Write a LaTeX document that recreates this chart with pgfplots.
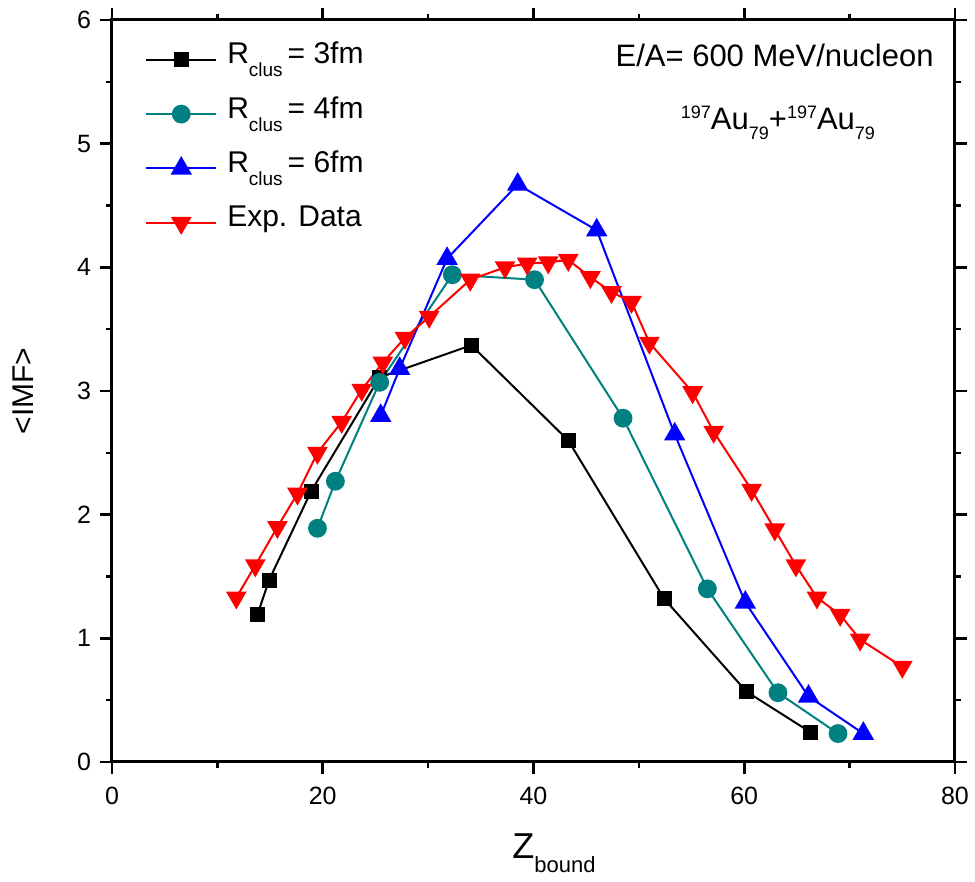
\documentclass[border=0pt]{standalone}
\usepackage{pgfplots}
\pgfplotsset{compat=1.18}
\usepackage{fontspec}
\setmainfont{Liberation Sans}
\definecolor{tealc}{RGB}{0,128,128}
\newcommand{\lsub}[1]{\raisebox{-6.5pt}{\fontsize{9.5}{10}\selectfont #1}}
\newcommand{\nsub}[1]{\raisebox{-5pt}{\fontsize{9}{10}\selectfont #1}}
\newcommand{\nsup}[1]{\raisebox{5.5pt}{\fontsize{9}{10}\selectfont #1}}
\begin{document}
\begin{tikzpicture}
\begin{axis}[
  scale only axis,
  width=421.5pt, height=371pt,
  xmin=0, xmax=80, ymin=0, ymax=6,
  xtick={0,20,40,60,80}, ytick={0,1,2,3,4,5,6},
  minor x tick num=1, minor y tick num=1,
  tick align=outside,
  major tick length=6pt, minor tick length=3pt,
  axis line style={line width=1.5pt},
  every tick/.style={line width=1.3pt, black},
  every minor tick/.style={line width=1.3pt, black},
  /pgf/number format/assume math mode=true,
  tick label style={font=\fontsize{12.5}{14}\selectfont},
  xticklabel style={yshift=-3pt},
  yticklabel style={xshift=-1pt},
  xlabel={\fontsize{18}{20}\selectfont Z\raisebox{-7pt}{\fontsize{11}{12}\selectfont bound}},
  xlabel style={at={(axis description cs:0.4745,-0.1294)}, anchor=base west, inner sep=0pt},
  ylabel={<IMF>},
  ylabel style={font=\fontsize{15}{17}\selectfont, at={(axis description cs:-0.1056,0.5)}, anchor=center, inner sep=0pt},
  legend style={draw=none, fill=none, at={(0.039,0.974)}, anchor=north west,
    font=\fontsize{15}{17}\selectfont, row sep=7.2pt, inner sep=0pt,
    nodes={inner sep=0pt, text height=12pt, text depth=8pt},
    /tikz/every odd column/.append style={column sep=5pt}},
  legend cell align=left,
  legend image code/.code={\draw[mark repeat=2,mark phase=2] plot coordinates {(0pt,0pt) (17.5pt,0pt) (35pt,0pt)};},
  every axis plot/.append style={line width=1pt},
]
\addplot[black, mark=square*, mark size=3.25pt, mark options={solid}] coordinates {
(13.8,1.19) (14.9,1.47) (18.9,2.19) (25.4,3.11) (34.1,3.37) (43.3,2.60) (52.4,1.32) (60.2,0.57) (66.3,0.24)};
\addlegendentry{R\lsub{clus}\,= 3fm}
\addplot[tealc, mark=*, mark size=4.2pt, mark options={solid}] coordinates {
(19.5,1.89) (21.2,2.27) (25.4,3.07) (32.3,3.94) (40.1,3.90) (48.5,2.78) (56.5,1.40) (63.2,0.56) (68.9,0.23)};
\addlegendentry{R\lsub{clus}\,= 4fm}
\addplot[blue, mark=triangle*, mark size=5.2pt, mark options={solid}] coordinates {
(25.5,2.80) (27.3,3.18) (31.8,4.07) (38.5,4.67) (46.0,4.30) (53.4,2.65) (60.1,1.29) (66.1,0.53) (71.3,0.23)};
\addlegendentry{R\lsub{clus}\,= 6fm}
\addplot[red, mark=triangle*, mark size=5pt, mark options={solid, rotate=180}] coordinates {
(11.8,1.33) (13.6,1.59) (15.7,1.90) (17.6,2.17) (19.5,2.50) (21.8,2.75) (23.7,3.01) (25.7,3.23)
(27.8,3.43) (30.1,3.60) (34.0,3.90) (37.3,4.00) (39.4,4.03) (41.4,4.04) (43.3,4.06) (45.4,3.92)
(47.4,3.80) (49.3,3.72) (51.0,3.39) (55.1,2.99) (57.1,2.67) (60.7,2.20) (62.9,1.88) (64.9,1.59)
(66.9,1.33) (69.1,1.19) (71.0,0.99) (75.0,0.77)};
\addlegendentry{Exp. Data}
\node[font=\fontsize{15.5}{17}\selectfont, anchor=base, inner sep=0pt] at (rel axis cs:0.786,0.937) {E/A= 600 MeV/nucleon};
\node[font=\fontsize{15.5}{17}\selectfont, anchor=base, inner sep=0pt] at (rel axis cs:0.790,0.852) {\nsup{197}Au\nsub{79}+\nsup{197}Au\nsub{79}};
\end{axis}
\pgfresetboundingbox
\path[use as bounding box] (-56pt,-60pt) rectangle (431.5pt,381pt);
\end{tikzpicture}
\end{document}
